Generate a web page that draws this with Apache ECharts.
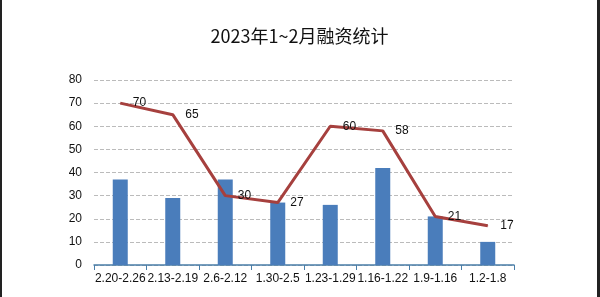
<!DOCTYPE html>
<html><head><meta charset="utf-8">
<script src="https://cdn.jsdelivr.net/npm/echarts@6/dist/echarts.min.js"></script>
<style>html,body{margin:0;padding:0;background:#fff}#c{width:600px;height:297px;box-sizing:border-box;border-left:2px solid #222;border-right:3px solid #222}</style>
</head><body><div id="c"></div>
<script>
const categories = ['2.20-2.26','2.13-2.19','2.6-2.12','1.30-2.5','1.23-1.29','1.16-1.22','1.9-1.16','1.2-1.8'];
const barValues = [37, 29, 37, 27, 26, 42, 21, 10];
const lineValues = [70, 65, 30, 27, 60, 58, 21, 17];
const titleText = '2023年1~2月融资统计';

const chart = echarts.init(document.getElementById('c'));
chart.setOption({
  animation: false,
  title: { text: titleText, left: 'center', top: 22, textStyle: { fontSize: 18, fontWeight: 'normal', color: '#111', fontFamily: 'Noto Sans CJK SC' } },
  grid: { left: 92, right: 83, top: 80, bottom: 32 },
  xAxis: {
    type: 'category', data: categories,
    axisLine: { lineStyle: { color: '#4a7ea8', width: 1.5 } },
    axisTick: { show: true, length: 5, lineStyle: { color: '#4a7ea8' } },
    axisLabel: { color: '#111', fontSize: 12, margin: 8, interval: 0, fontFamily: 'Liberation Sans' }
  },
  yAxis: {
    type: 'value', min: 0, max: 80, interval: 10,
    axisLine: { show: false }, axisTick: { show: false },
    axisLabel: { color: '#111', fontSize: 12, margin: 12, fontFamily: 'Liberation Sans' },
    splitLine: { lineStyle: { color: '#bbb', type: 'dashed' } }
  },
  series: [
    { type: 'bar', data: barValues, barWidth: 15, itemStyle: { color: '#4a7dbb' } },
    { type: 'line', data: lineValues, symbol: 'circle', symbolSize: 1, showSymbol: true,
      itemStyle: { color: '#a6403e' },
      lineStyle: { color: '#a6403e', width: 3 },
      labelLayout: { hideOverlap: false },
      label: { show: true, position: 'right', distance: 12, color: '#111', fontSize: 12, fontFamily: 'Liberation Sans' } }
  ]
});
</script></body></html>
